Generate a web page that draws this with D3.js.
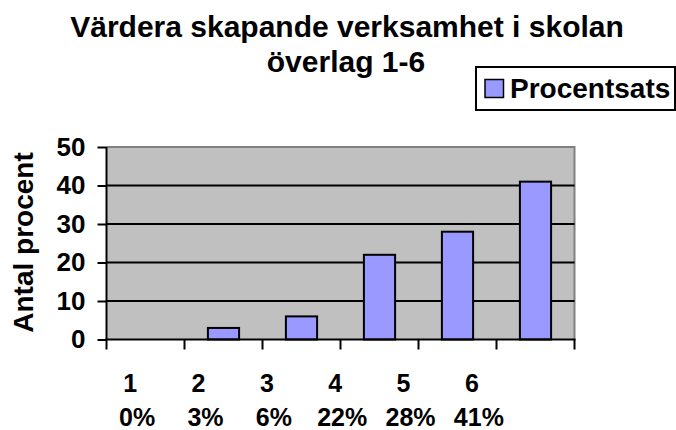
<!DOCTYPE html>
<html>
<head>
<meta charset="utf-8">
<script src="https://cdn.jsdelivr.net/npm/d3@7"></script>
<style>
  body { margin: 0; background: #fff; }
  svg { display: block; font-family: 'Liberation Sans', Arial, sans-serif; font-weight: bold; }
</style>
</head>
<body>
<svg id="chart" width="676" height="430"></svg>
<script>
const categories = ['1', '2', '3', '4', '5', '6'];
const percentLabels = ['0%', '3%', '6%', '22%', '28%', '41%'];
const values = [0, 3, 6, 22, 28, 41];
const yTicks = [0, 10, 20, 30, 40, 50];

const svg = d3.select('#chart');

const plot = { left: 106.5, right: 574.5, top: 147, bottom: 339.5 };

const x = d3.scaleBand()
  .domain(categories)
  .range([plot.left, plot.right])
  .paddingInner(0.6)
  .paddingOuter(0.3);

// category labels sit a bit tighter than the bands in the original
const labelX = d3.scaleBand()
  .domain(categories)
  .range([103, 513]);

const y = d3.scaleLinear()
  .domain([0, 50])
  .range([plot.bottom, plot.top]);

// title
svg.append('text')
  .attr('x', 347)
  .attr('y', 37)
  .attr('text-anchor', 'middle')
  .style('font-size', '30px')
  .text('Värdera skapande verksamhet i skolan');
svg.append('text')
  .attr('x', 346)
  .attr('y', 71.5)
  .attr('text-anchor', 'middle')
  .style('font-size', '30px')
  .text('överlag 1-6');

// plot background
svg.append('rect')
  .attr('x', plot.left)
  .attr('y', plot.top)
  .attr('width', plot.right - plot.left)
  .attr('height', plot.bottom - plot.top)
  .style('fill', '#c0c0c0');

// top and right border
svg.append('path')
  .attr('d', `M${plot.left},${plot.top}H${plot.right}V${plot.bottom}`)
  .style('fill', 'none')
  .style('stroke', '#808080')
  .style('stroke-width', 2);

// gridlines
svg.selectAll('line.grid')
  .data(yTicks.filter((d) => d > 0 && d < 50))
  .join('line')
  .attr('class', 'grid')
  .attr('x1', plot.left)
  .attr('x2', plot.right)
  .attr('y1', (d) => y(d))
  .attr('y2', (d) => y(d))
  .style('stroke', '#000')
  .style('stroke-width', 2);

// bars
svg.selectAll('rect.bar')
  .data(values)
  .join('rect')
  .attr('class', 'bar')
  .attr('x', (d, i) => x(categories[i]))
  .attr('y', (d) => y(d))
  .attr('width', x.bandwidth())
  .attr('height', (d) => y(0) - y(d))
  .style('fill', '#9999ff')
  .style('stroke', '#000')
  .style('stroke-width', 2);

// y axis
const yAxis = svg.append('g')
  .attr('transform', `translate(${plot.left},0)`)
  .call(d3.axisLeft(y).tickValues(yTicks).tickSize(9).tickPadding(12));
yAxis.select('.domain').style('stroke', '#000').style('stroke-width', 2)
  .attr('d', `M0,${plot.top}V${plot.bottom}`);
yAxis.selectAll('.tick line').style('stroke', '#000').style('stroke-width', 2);
yAxis.selectAll('.tick text')
  .style('font-size', '26px')
  .style('font-family', "'Liberation Sans', Arial, sans-serif")
  .style('font-weight', 'bold')
  .style('fill', '#000');

// x axis line and ticks at band boundaries
svg.append('line')
  .attr('x1', plot.left - 1)
  .attr('x2', plot.right + 1)
  .attr('y1', plot.bottom)
  .attr('y2', plot.bottom)
  .style('stroke', '#000')
  .style('stroke-width', 2);

const gap = (x.step() - x.bandwidth()) / 2;
const boundaries = categories.map((c) => x(c) - gap).concat([plot.right]);
svg.selectAll('line.xtick')
  .data(boundaries)
  .join('line')
  .attr('class', 'xtick')
  .attr('x1', (d) => d)
  .attr('x2', (d) => d)
  .attr('y1', plot.bottom)
  .attr('y2', plot.bottom + 10)
  .style('stroke', '#000')
  .style('stroke-width', 2);

// category labels, two lines
const lab = svg.selectAll('g.xlab')
  .data(categories)
  .join('g')
  .attr('class', 'xlab')
  .attr('transform', (d) => `translate(${labelX(d) + labelX.bandwidth() / 2},0)`);
lab.append('text')
  .attr('x', -7)
  .attr('y', 391.5)
  .attr('text-anchor', 'middle')
  .style('font-size', '25px')
  .text((d) => d);
lab.append('text')
  .attr('y', 426)
  .attr('text-anchor', 'middle')
  .style('font-size', '25px')
  .text((d, i) => percentLabels[i]);

// y axis title
svg.append('text')
  .attr('transform', 'translate(33,242.5) rotate(-90)')
  .attr('text-anchor', 'middle')
  .style('font-size', '28px')
  .text('Antal procent');

// legend
const legend = svg.append('g');
legend.append('rect')
  .attr('x', 476)
  .attr('y', 67)
  .attr('width', 199)
  .attr('height', 43)
  .style('fill', '#fff')
  .style('stroke', '#000')
  .style('stroke-width', 2);
legend.append('rect')
  .attr('x', 485)
  .attr('y', 79.5)
  .attr('width', 18.5)
  .attr('height', 18)
  .style('fill', '#9999ff')
  .style('stroke', '#000')
  .style('stroke-width', 1.5);
legend.append('text')
  .attr('x', 510)
  .attr('y', 98)
  .style('font-size', '28px')
  .text('Procentsats');
</script>
</body>
</html>
